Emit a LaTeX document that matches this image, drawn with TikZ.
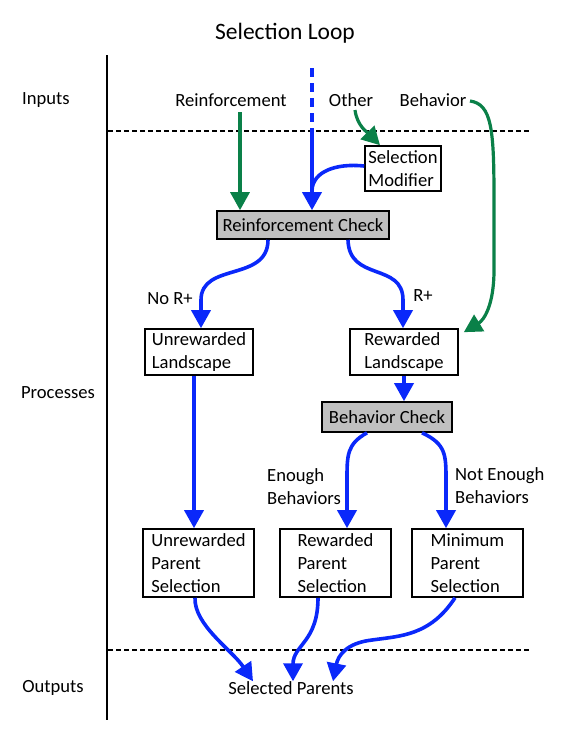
\documentclass[tikz,border=0pt]{standalone}
\usepackage{fontspec}
\setmainfont{Carlito}
\usetikzlibrary{arrows.meta}
\definecolor{myblue}{RGB}{10,40,250}
\definecolor{mygreen}{RGB}{10,128,72}
\definecolor{boxgray}{RGB}{192,192,192}
\tikzset{
  txt/.style={font=\fontsize{18.6}{22.8}\selectfont, align=left, inner sep=0pt},
  box/.style={txt, draw, line width=1.6pt, fill=white},
  graybox/.style={box, fill=boxgray},
  barrow/.style={line width=3.6pt, myblue, -{Triangle[width=19pt,length=18pt]}},
  garrow/.style={line width=3.2pt, mygreen, -{Triangle[width=19pt,length=18pt]}},
  sepline/.style={line width=1.3pt, dash pattern=on 5pt off 3pt},
}
\begin{document}
\begin{tikzpicture}[x=1pt,y=-1pt]
\useasboundingbox (0,0) rectangle (561,750);
% title and side labels
\node[txt, font=\fontsize{23.5}{26}\selectfont] (title) at (285,33) {Selection Loop};
\node[txt] (inputs) at (46,100) {Inputs};
\node[txt] (processes) at (58,393) {Processes};
\node[txt] (outputs) at (53,688) {Outputs};
% frame lines
\coordinate (vtop) at (107,55);
\coordinate (vbot) at (107,720);
\draw[line width=1.4pt] (vtop) -- (vbot);
\coordinate (d1a) at (108,131); \coordinate (d1b) at (530,131);
\coordinate (d2a) at (108,650); \coordinate (d2b) at (530,650);
\draw[sepline] (d1a) -- (d1b);
\draw[sepline] (d2a) -- (d2b);
% input labels
\node[txt] (reinf) at (231,100) {Reinforcement};
\node[txt] (other) at (351,100) {Other};
\node[txt] (behav) at (433,100) {Behavior};
% boxes
\node[box, minimum width=76pt, minimum height=45pt] (sm) at (403,168.5) {Selection\\Modifier};
\node[graybox, minimum width=172pt, minimum height=28pt] (rc) at (303,225) {Reinforcement Check};
\node[box, minimum width=108pt, minimum height=46pt] (ul) at (199,352) {Unrewarded\\Landscape};
\node[box, minimum width=108pt, minimum height=46pt] (rl) at (404,352) {Rewarded\\Landscape};
\node[graybox, minimum width=130pt, minimum height=30pt] (bc) at (387,417) {Behavior Check};
\node[box, minimum width=111pt, minimum height=68pt] (ups) at (198.5,563) {Unrewarded\\Parent\\Selection};
\node[box, minimum width=111pt, minimum height=68pt] (rps) at (335.5,563) {Rewarded\\Parent\\Selection};
\node[box, minimum width=111pt, minimum height=68pt] (mps) at (467.5,563) {Minimum\\Parent\\Selection};
\node[txt] (sp) at (291,688) {Selected Parents};
% edge labels
\node[txt] (nor) at (170,299) {No R+};
\node[txt] (rp) at (423,296) {R+};
\node[txt, anchor=west] (enough) at (267,487) {Enough\\Behaviors};
\node[txt, anchor=west] (notenough) at (455,486) {Not Enough\\Behaviors};
% blue input line
\coordinate (btop) at (312,68);
\coordinate (bmid) at (312,131);
\draw[line width=3.6pt, myblue, dash pattern=on 9pt off 6pt] (btop) -- (bmid);
\draw[barrow] (bmid) -- (rc.north -| bmid);
\draw[line width=3.6pt, myblue] (sm.west |- 0,166) .. controls (335,163) and (313,172) .. (312,190);
% green inputs
\coordinate (rgs) at (240,112);
\coordinate (ogs) at (355,110);
\coordinate (bgs) at (470,101);
\coordinate (bge) at ([xshift=5pt,yshift=-4pt]rl.north east);
\draw[garrow] (rgs) -- (rc.north -| rgs);
\draw[garrow] (ogs) .. controls (357,126) and (368,133) .. (sm.north -| 380,0);
\draw[garrow] (bgs) .. controls (492,104) and (494,130) .. (494,200) -- (494,270) .. controls (494,305) and (484,320) .. (bge);
% reinforcement check outputs
\draw[barrow] (rc.south -| 268,0) .. controls (268,282) and (201,262) .. (201,300) -- (ul.north -| 201,0);
\draw[barrow] (rc.south -| 348,0) .. controls (349,282) and (403,262) .. (403,300) -- (rl.north -| 403,0);
\draw[barrow] (ul.south -| 194,0) -- (ups.north -| 194,0);
\draw[barrow] (rl.south -| 404,0) -- (bc.north -| 404,0);
% behavior check outputs
\draw[barrow] (bc.south -| 367,0) .. controls (347,444) and (347,455) .. (347,480) -- (rps.north -| 347,0);
\draw[barrow] (bc.south -| 422,0) .. controls (446,444) and (446,455) .. (446,480) -- (mps.north -| 446,0);
% to selected parents
\coordinate (sp1) at ([xshift=-38pt]sp.north);
\coordinate (sp2) at ([xshift=2pt]sp.north);
\coordinate (sp3) at ([xshift=42pt]sp.north);
\draw[barrow] (ups.south -| 195,0) .. controls (194,625) and (232,650) .. (sp1);
\draw[barrow] (rps.south -| 318,0) .. controls (318,642) and (293,645) .. (sp2);
\draw[barrow] (mps.south -| 455,0) .. controls (430,636) and (400,636) .. (372,640) .. controls (346,643) and (338,656) .. (sp3);
\end{tikzpicture}
\end{document}
